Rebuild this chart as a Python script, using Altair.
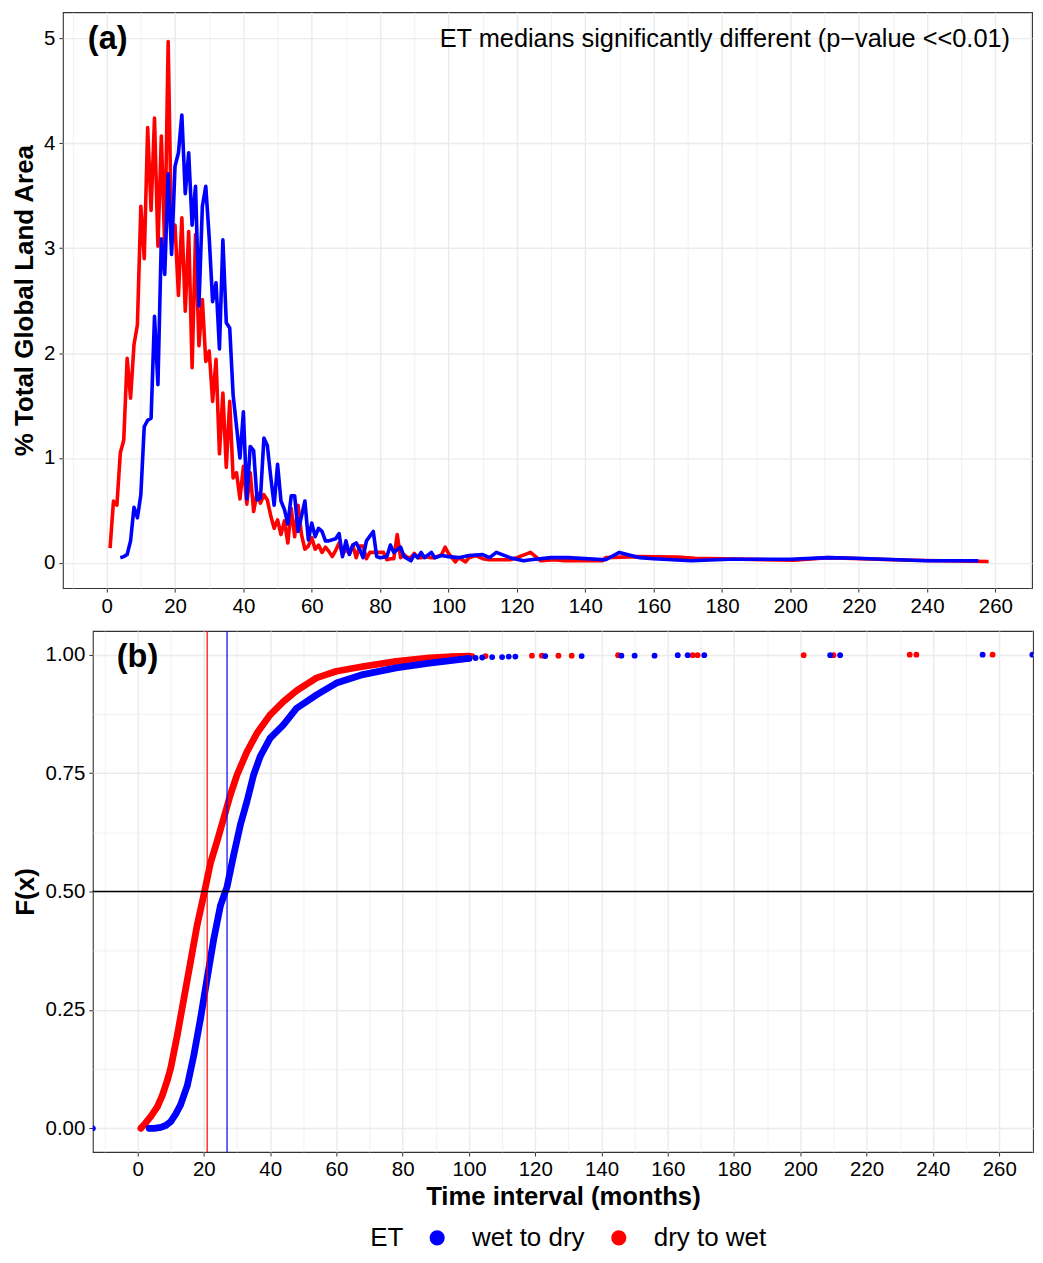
import altair as alt
import pandas as pd

# ---------------- data ----------------
SERIES = ["wet to dry", "dry to wet"]
COLORS = ["#0000FF", "#FF0000"]
RED = "#FF0000"
BLUE = "#0000FF"

# panel (a): % total global land area vs time interval (months)
red_months = [1, 2, 3, 4, 5, 6, 7, 8, 9, 10, 11, 12, 13, 14, 15, 16, 17, 18, 19, 20,
              21, 22, 23, 24, 25, 26, 27, 28, 29, 30, 31, 32, 33, 34, 35, 36, 37, 38, 39, 40,
              41, 42, 43, 44, 45, 46, 47, 48, 49, 50, 51, 52, 53, 54, 55, 56, 57, 58, 59, 60,
              61, 62, 63, 64, 65, 66, 67, 68, 69, 70, 71, 72, 73, 74, 75, 76, 77, 78, 79, 80,
              81, 82, 83, 84, 85, 86, 87, 88, 89, 90, 91, 92, 93, 95, 96, 98, 99, 100, 102, 103,
              105, 106, 108, 110, 112, 118, 120, 124, 127, 131, 134, 137, 145, 146, 155, 167, 172,
              201, 211, 235, 258]
red_pct = [0.14, 0.59, 0.55, 1.05, 1.17, 1.95, 1.57, 2.08, 2.27, 3.40, 2.90, 4.15, 3.36, 4.24, 3.02, 4.07, 3.00, 4.97, 3.05, 3.22,
           2.55, 3.29, 2.40, 3.16, 1.86, 3.13, 2.07, 2.51, 1.92, 2.02, 1.54, 1.94, 1.04, 1.62, 0.91, 1.54, 0.81, 0.86, 0.61, 0.92,
           0.56, 0.86, 0.49, 0.67, 0.57, 0.65, 0.60, 0.45, 0.33, 0.41, 0.27, 0.40, 0.19, 0.52, 0.25, 0.55, 0.27, 0.13, 0.16, 0.24,
           0.13, 0.17, 0.10, 0.15, 0.11, 0.06, 0.12, 0.19, 0.08, 0.13, 0.09, 0.17, 0.05, 0.16, 0.16, 0.04, 0.10, 0.10, 0.10, 0.10,
           0.10, 0.03, 0.04, 0.04, 0.27, 0.05, 0.08, 0.05, 0.05, 0.09, 0.05, 0.05, 0.06, 0.05, 0.05, 0.08, 0.15, 0.09, 0.01, 0.05,
           0.01, 0.05, 0.07, 0.04, 0.03, 0.03, 0.05, 0.10, 0.02, 0.03, 0.02, 0.02, 0.02, 0.05, 0.06, 0.055, 0.045,
           0.025, 0.05, 0.025, 0.013]

blue_months = [4, 5, 6, 7, 8, 9, 10, 11, 12, 13, 14, 15, 16, 17, 18, 19, 20,
               21, 22, 23, 24, 25, 26, 27, 28, 29, 30, 31, 32, 33, 34, 35, 36, 37, 38, 39, 40,
               41, 42, 43, 44, 45, 46, 47, 48, 49, 50, 51, 52, 53, 54, 55, 56, 58, 59, 60,
               61, 62, 63, 64, 65, 66, 67, 68, 69, 70, 71, 72, 73, 74, 75, 76, 78, 79, 80,
               82, 83, 84, 86, 87, 89, 90, 91, 92, 93, 95, 96, 98, 100, 103, 106, 110, 112, 114,
               118, 122, 124, 130, 135, 146, 150, 156, 160, 171, 182, 200, 211, 219, 240, 255]
blue_pct = [0.05, 0.06, 0.08, 0.21, 0.53, 0.43, 0.65, 1.30, 1.36, 1.38, 2.35, 1.70, 3.09, 2.75, 3.71, 2.94, 3.78,
            3.91, 4.27, 3.52, 3.91, 3.22, 3.59, 2.45, 3.40, 3.59, 3.10, 2.49, 2.67, 2.04, 3.08, 2.29, 2.24, 1.60, 1.30, 1.00, 1.44,
            0.61, 1.11, 1.07, 0.60, 0.62, 1.19, 1.12, 0.82, 0.55, 0.94, 0.59, 0.51, 0.37, 0.64, 0.64, 0.30, 0.59, 0.22, 0.38,
            0.25, 0.33, 0.30, 0.21, 0.21, 0.22, 0.23, 0.28, 0.06, 0.21, 0.08, 0.17, 0.19, 0.13, 0.05, 0.21, 0.30, 0.06, 0.05,
            0.06, 0.17, 0.10, 0.15, 0.06, 0.02, 0.08, 0.05, 0.10, 0.05, 0.10, 0.05, 0.07, 0.06, 0.05, 0.07, 0.08, 0.05, 0.10,
            0.05, 0.02, 0.03, 0.05, 0.05, 0.03, 0.10, 0.05, 0.04, 0.02, 0.035, 0.035, 0.05, 0.045, 0.02, 0.02]

# panel (b): empirical CDF F(x)
red_cdf_x = [1, 2.5, 4, 6, 7.5, 9, 10, 12, 14, 16, 18, 20, 22, 24, 26, 28, 30, 33, 36, 40,
             44, 48, 54, 60, 68, 78, 88, 95, 100]
red_cdf_f = [0.0, 0.012, 0.025, 0.046, 0.07, 0.102, 0.127, 0.197, 0.275, 0.352, 0.43, 0.493, 0.56, 0.606, 0.655, 0.704, 0.746, 0.795, 0.834, 0.873,
             0.901, 0.924, 0.951, 0.965, 0.975, 0.986, 0.993, 0.996, 0.997]
blue_cdf_x = [3.5, 5, 7, 8.5, 10, 11.5, 13, 15, 17, 19, 21, 23, 25, 27, 29, 31, 33, 35, 37, 40,
              44, 48, 54, 60, 68, 78, 88, 95, 100]
blue_cdf_f = [0.0, 0.0, 0.002, 0.006, 0.014, 0.03, 0.05, 0.09, 0.155, 0.232, 0.317, 0.40, 0.47, 0.51, 0.577, 0.64, 0.69, 0.746, 0.785, 0.824,
              0.852, 0.887, 0.915, 0.94, 0.958, 0.972, 0.982, 0.988, 0.992]
red_tail_x = [101, 105, 119, 122, 127, 131, 145, 167.5, 169, 201, 210, 233, 235, 258]
red_tail_f = [0.997, 0.997, 0.998, 0.998, 0.998, 0.998, 0.999, 0.999, 0.999, 0.999, 0.999, 1.0, 1.0, 1.0]
blue_tail_x = [-13.5, 102, 104, 107, 110, 112, 114, 123, 134, 146, 150, 156, 163, 166, 171, 209, 212, 255, 270]
blue_tail_f = [0.0, 0.993, 0.994, 0.995, 0.995, 0.996, 0.996, 0.997, 0.997, 0.998, 0.998, 0.998, 0.999, 0.999, 0.999, 0.999, 0.999, 1.0, 1.0]

median_red = [21]
median_blue = [27]
half_f = [0.5]

tag_a = "(a)"
tag_b = "(b)"
note_a = "ET medians significantly different (p\u2212value <<0.01)"
x_title = "Time interval (months)"
y_title_a = "% Total Global Land Area"
y_title_b = "F(x)"
legend_title = "ET"

# ---------------- frames ----------------
df_a_red = pd.DataFrame({"month": red_months, "pct": red_pct})
df_a_blue = pd.DataFrame({"month": blue_months, "pct": blue_pct})
df_b_red = pd.DataFrame({"x": red_cdf_x, "F": red_cdf_f, "ET": "dry to wet"})
df_b_blue = pd.DataFrame({"x": blue_cdf_x, "F": blue_cdf_f, "ET": "wet to dry"})
df_t_red = pd.DataFrame({"x": red_tail_x, "F": red_tail_f, "ET": "dry to wet"})
df_t_blue = pd.DataFrame({"x": blue_tail_x, "F": blue_tail_f, "ET": "wet to dry"})
df_med_red = pd.DataFrame({"x": median_red})
df_med_blue = pd.DataFrame({"x": median_blue})
df_half = pd.DataFrame({"F": half_f})

cscale = alt.Scale(domain=SERIES, range=COLORS)
FONT = "Liberation Sans"
GRID = "#ebebeb"


def axis(values, test, fmt, title_pad=4, title_size=26):
    return alt.Axis(
        values=values,
        format=fmt,
        labelExpr=f"({test}) ? '' : datum.label",
        labelOverlap=False,
        labelFontSize=20.5,
        labelColor="#000000",
        labelPadding=4,
        tickSize=4,
        tickWidth=1,
        tickColor="#333333",
        tickOpacity={"condition": {"test": test, "value": 0}, "value": 1},
        domain=False,
        grid=True,
        gridColor=GRID,
        gridWidth={"condition": {"test": test, "value": 0.7}, "value": 1.4},
        titleFontSize=title_size,
        titleFontWeight="bold",
        titleColor="#000000",
        titlePadding=title_pad,
    )


xa_vals = list(range(-10, 271, 10))
ya_vals = [i * 0.5 for i in range(0, 11)]
yb_vals = [i * 0.125 for i in range(0, 9)]

W_A = 971
W_B = 942

# ---------------- panel (a) ----------------
xa = alt.X("month:Q", scale=alt.Scale(domain=[-12.8, 270.7], nice=False, zero=False),
           axis=axis(xa_vals, "datum.value % 20 != 0", "d"), title=None)
ya = alt.Y("pct:Q", scale=alt.Scale(domain=[-0.24, 5.25], nice=False, zero=False),
           axis=axis(ya_vals, "datum.value % 1 != 0", "d", title_pad=6), title=y_title_a)

line_red = alt.Chart(df_a_red).mark_line(strokeWidth=3.6, strokeJoin="round", color=RED).encode(x=xa, y=ya)
line_blue = alt.Chart(df_a_blue).mark_line(strokeWidth=3.6, strokeJoin="round", color=BLUE).encode(x=xa, y=ya)

txt_a = alt.Chart(pd.DataFrame({"t": [tag_a]})).mark_text(
    align="left", baseline="middle", fontSize=32.5, fontWeight="bold", font=FONT, color="#000000"
).encode(x=alt.value(25), y=alt.value(27), text="t:N")
txt_note = alt.Chart(pd.DataFrame({"t": [note_a]})).mark_text(
    align="right", baseline="middle", fontSize=25.4, font=FONT, color="#000000"
).encode(x=alt.value(W_A - 22), y=alt.value(27), text="t:N")

panel_a = alt.layer(line_red, line_blue, txt_a, txt_note).properties(width=W_A, height=577)

# ---------------- panel (b) ----------------
xb = alt.X("x:Q", scale=alt.Scale(domain=[-13.5, 270.2], nice=False, zero=False),
           axis=axis(xa_vals, "datum.value % 20 != 0", "d", title_pad=4, title_size=25.7), title=x_title)
yb = alt.Y("F:Q", scale=alt.Scale(domain=[-0.05, 1.05], nice=False, zero=False),
           axis=axis(yb_vals, "datum.value % 0.25 != 0", ".2f", title_pad=7), title=y_title_b)

legend = alt.Legend(
    title=legend_title, orient="none", legendX=362, legendY=1215, direction="horizontal",
    titleOrient="left", titleFontSize=26, titleFontWeight="normal", titleColor="#000000",
    titlePadding=20, labelFontSize=26, labelColor="#000000", labelOffset=22,
    symbolType="circle", symbolSize=230, symbolStrokeWidth=0, columnPadding=21,
    titleBaseline="middle", titleFont=FONT, labelFont=FONT)
color_enc = alt.Color("ET:N", scale=cscale, legend=legend)


def cdf_layers(df_curve, df_tail, col):
    line = alt.Chart(df_curve).mark_line(strokeWidth=6.8, strokeCap="round", strokeJoin="round",
                                         clip=True, color=col).encode(x=xb, y=yb)
    pts = alt.Chart(df_curve).mark_circle(size=36, opacity=1, clip=True).encode(x=xb, y=yb, color=color_enc)
    tail = alt.Chart(df_tail).mark_circle(size=34, opacity=1, clip=True).encode(x=xb, y=yb, color=color_enc)
    return [line, pts, tail]


red_layers = cdf_layers(df_b_red, df_t_red, RED)
blue_layers = cdf_layers(df_b_blue, df_t_blue, BLUE)

med_red_rule = alt.Chart(df_med_red).mark_rule(strokeWidth=1.2, color=RED).encode(x=xb)
med_blue_rule = alt.Chart(df_med_blue).mark_rule(strokeWidth=1.2, color=BLUE).encode(x=xb)
half_rule = alt.Chart(df_half).mark_rule(strokeWidth=1.3, color="#000000").encode(y=yb)

txt_b = alt.Chart(pd.DataFrame({"t": [tag_b]})).mark_text(
    align="left", baseline="middle", fontSize=32.5, fontWeight="bold", font=FONT, color="#000000"
).encode(x=alt.value(24), y=alt.value(26), text="t:N")

panel_b = alt.layer(*red_layers, *blue_layers, med_red_rule, med_blue_rule, half_rule, txt_b).properties(
    width=W_B, height=522)

# zero-size spacer so each row is laid out flush-left by its full bounds (as in the original)
spacer = alt.Chart(pd.DataFrame({"s": [0]})).mark_point(opacity=0, size=1).encode(
    x=alt.X("s:Q", axis=None), y=alt.Y("s:Q", axis=None)
).properties(width=1, height=1, view=alt.ViewBackground(stroke="transparent"))

row_a = alt.hconcat(spacer, panel_a, spacing=0)
row_b = alt.hconcat(spacer, panel_b, spacing=0)

chart = alt.vconcat(row_a, row_b, spacing=11).configure(
    font=FONT, padding={"left": 0, "top": 2, "right": 0, "bottom": 0}, background="white"
).configure_view(stroke="#333333", strokeWidth=1.1)

chart.save("out.html", embed_options={"renderer": "svg", "actions": False})
